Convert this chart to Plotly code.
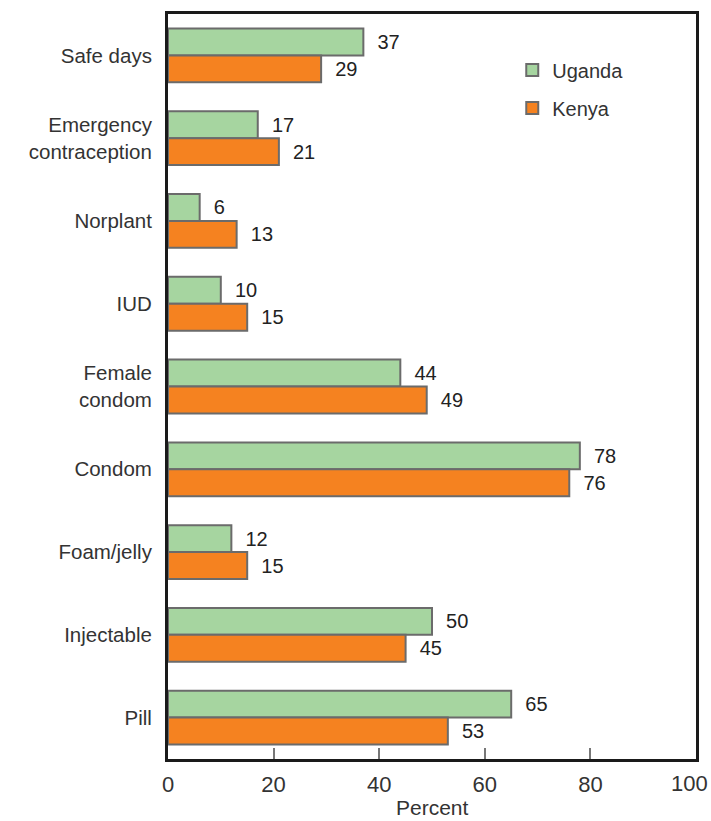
import plotly.graph_objects as go

# Contraceptive methods known, percent of respondents
methods = ["Safe days", "Emergency<br>contraception", "Norplant", "IUD",
           "Female<br>condom", "Condom", "Foam/jelly", "Injectable", "Pill"]
uganda = [37, 17, 6, 10, 44, 78, 12, 50, 65]
kenya = [29, 21, 13, 15, 49, 76, 15, 45, 53]
x_ticks = [0, 20, 40, 60, 80]
x_max = 100
x_title = "Percent"

GREEN = "#a6d5a0"
ORANGE = "#f58220"
EDGE = "#6b6b6b"
FONT = "Liberation Sans, Arial, sans-serif"

fig = go.Figure()
for name, vals, color in [("Uganda", uganda, GREEN), ("Kenya", kenya, ORANGE)]:
    fig.add_trace(go.Bar(
        y=methods, x=vals, name=name, orientation="h", legendgroup=name,
        marker=dict(color=color, line=dict(color=EDGE, width=2)),
        text=vals, texttemplate="  %{x}", textposition="outside",
        cliponaxis=False,
        textfont=dict(size=20, color="#222222", family=FONT),
    ))

# Last x tick label, kept inside the page edge
fig.add_annotation(x=x_max, y=0, xref="x", yref="paper", yanchor="top",
                   xanchor="right", xshift=14, yshift=-10, showarrow=False,
                   text=str(x_max), font=dict(size=22, color="#333333"))
# x-axis title, set low under the tick labels
fig.add_annotation(x=0.5, y=0, xref="paper", yref="paper", yanchor="bottom",
                   xanchor="center", yshift=-61, showarrow=False, borderpad=0,
                   text=x_title, font=dict(size=21, color="#333333"))

fig.update_layout(
    width=711, height=821,
    margin=dict(l=168, r=15, t=14, b=62),
    paper_bgcolor="white", plot_bgcolor="white",
    barmode="group", bargap=0.35, bargroupgap=0.0,
    font=dict(family=FONT, size=20, color="#333333"),
    legend=dict(x=0.652, y=0.951, xanchor="left", yanchor="top",
                bgcolor="rgba(0,0,0,0)", tracegroupgap=9,
                font=dict(size=20, color="#333333")),
    xaxis=dict(range=[0, x_max], tickvals=x_ticks + [x_max],
               ticktext=[str(t) for t in x_ticks] + [""],
               ticks="inside", ticklen=11,
               tickcolor="#777777", tickwidth=1.5, showgrid=False, zeroline=False,
               showline=True, linecolor="#1a1a1a", linewidth=3, mirror=True,
               ticklabelstandoff=4, automargin=False,
               tickfont=dict(size=22, color="#333333")),
    yaxis=dict(range=[8.5, -0.5], ticks="", showgrid=False, zeroline=False,
               showline=True, linecolor="#1a1a1a", linewidth=3, mirror=True,
               automargin=False,
               ticklabelstandoff=9, tickfont=dict(size=20.5, color="#333333")),
)

fig.write_html("out.html")
